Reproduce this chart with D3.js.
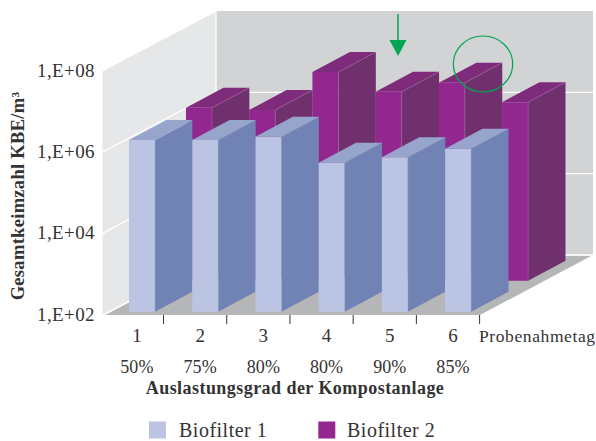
<!DOCTYPE html>
<html><head><meta charset="utf-8">
<script src="https://cdn.jsdelivr.net/npm/d3@7/dist/d3.min.js"></script>
<style>html,body{margin:0;padding:0;background:#fff}svg{display:block}text{font-family:"Liberation Serif",serif;fill:#333}</style>
</head><body><div id="c"></div>
<script>
const days = ["1","2","3","4","5","6"];
const loads = ["50%","75%","80%","80%","90%","85%"];
const biofilter1 = [1.66e6,1.66e6,2.0e6,4.6e5,6.3e5,1.02e6];
const biofilter2 = [1.78e6,1.58e6,1.35e7,4.4e6,7.4e6,2.45e6];
const yTicks = [1e2,1e4,1e6,1e8];
const yTickLabels = ["1,E+02","1,E+04","1,E+06","1,E+08"];
const legendNames = ["Biofilter 1","Biofilter 2"];

const W=596,H=441;
const svg=d3.select("#c").append("svg").attr("width",W).attr("height",H);
const y=d3.scaleLog().domain([1e2,1e8]).range([315,71]);
const x=d3.scaleBand().domain(days).range([100.3,479.6]);
const wallDx=114, wallDy=-60;
const poly=(pts,fill,stroke)=>svg.append("polygon").attr("points",pts.map(p=>p.join(",")).join(" ")).attr("fill",fill).attr("stroke",stroke||"none").attr("stroke-width",stroke?0.5:0);

// walls
const xl=102, top8=y(1e8), base=y(1e2);
poly([[xl,top8],[xl+wallDx,top8+wallDy],[xl+wallDx,base+wallDy],[xl,base]],"#e6e7e8");
poly([[xl+wallDx,top8+wallDy],[593,top8+wallDy],[593,base+wallDy],[xl+wallDx,base+wallDy]],"#d1d3d4");
// floor
poly([[105,315],[219,255.5],[592,255.5],[480,315]],"#b5b6b7");
// grid
yTicks.forEach(t=>{
  const yy=y(t);
  svg.append("polyline").attr("fill","none").attr("stroke","#fff").attr("stroke-width",1.3)
    .attr("points",`${xl},${t===1e2?yy+0.5:yy} ${xl+wallDx},${yy+wallDy} ${t===1e8?xl+wallDx:593},${yy+wallDy}`);
});
svg.append("line").attr("x1",xl+wallDx).attr("x2",xl+wallDx).attr("y1",top8+wallDy).attr("y2",base+wallDy).attr("stroke","#fff").attr("stroke-width",1.3);
svg.append("line").attr("x1",102).attr("x2",102).attr("y1",top8).attr("y2",base).attr("stroke","#fff");

// bars
const barW=26, bdx=37.4, bdy=-20;
function bars(vals,offX,offY,front,side,topc,edge){
  vals.forEach((v,i)=>{
    const x0=x(days[i])+offX, x1=x0+barW;
    const yt=y(v)+offY, yb=y(1e2)+offY;
    poly([[x1,yt],[x1+bdx,yt+bdy],[x1+bdx,yb+bdy],[x1,yb]],side);
    poly([[x0,yt],[x0+bdx,yt+bdy],[x1+bdx,yt+bdy],[x1,yt]],topc);
    poly([[x0,yt],[x1,yt],[x1,yb],[x0,yb]],front);
    svg.append("polyline").attr("fill","none").attr("stroke",edge).attr("stroke-width",0.5)
      .attr("points",`${x1},${yb} ${x1},${yt} ${x1+bdx},${yt+bdy}`);
  });
}
bars(biofilter2,85.7,-34.3,"#92278f","#70306d","#7f2b7b","#a56aa3");
bars(biofilter1,28.7,-3.3,"#bbc5e3","#7083b4","#97a5cc","#9aa8d0");

// x axis ticks
const axis=d3.axisBottom(x).tickSize(9).tickSizeOuter(0).tickFormat("").offset(0);
const ag=svg.append("g").attr("transform","translate(0,315)").call(axis);
ag.select(".domain").remove();
ag.selectAll(".tick").attr("transform",d=>`translate(${x(d)+x.bandwidth()},0)`);
ag.selectAll(".tick line").attr("stroke","#333").attr("stroke-width",1);

const lab=(txt,xx,yy,size,opts={})=>{
  const t=svg.append("text").attr("x",xx).attr("y",yy).attr("font-size",size).attr("dominant-baseline","central").text(txt);
  if(opts.anchor)t.attr("text-anchor",opts.anchor);
  if(opts.bold)t.attr("font-weight","bold");
  if(opts.ls)t.attr("letter-spacing",opts.ls);
  return t;
};
days.forEach((d,i)=>{
  const cx=x(d)+x.bandwidth()/2+5;
  lab(d,cx,335.5,19,{anchor:"middle"});
  lab(loads[i],cx,367,18,{anchor:"middle",ls:0.1});
});
lab("Probenahmetag",479,335.5,17.5,{ls:0.6});
lab("Auslastungsgrad der Kompostanlage",295,388,18,{anchor:"middle",bold:true,ls:0.45});

// y axis labels
yTicks.forEach((t,i)=>lab(yTickLabels[i],95,y(t)-1,19,{anchor:"end",ls:0.4}));
const yt=svg.append("text").attr("transform","translate(18,196) rotate(-90)").attr("text-anchor","middle").attr("dominant-baseline","central").attr("font-size",18.5).attr("font-weight","bold").attr("letter-spacing",0.3);
yt.append("tspan").text("Gesamtkeimzahl KBE/m³");

// annotations
svg.append("ellipse").attr("cx",483).attr("cy",64).attr("rx",29.7).attr("ry",28).attr("fill","none").attr("stroke","#00a651").attr("stroke-width",1.2);
svg.append("line").attr("x1",398).attr("x2",398).attr("y1",14).attr("y2",42).attr("stroke","#00a651").attr("stroke-width",1.5);
svg.append("path").attr("d",d3.line()([[389.5,40],[406.5,40],[398,56]])+"Z").attr("fill","#00a651");

// legend
[["#bbc5e3",149,179],["#92278f",318.3,347]].forEach((d,i)=>{
  svg.append("rect").attr("x",d[1]).attr("y",421.5).attr("width",17).attr("height",17).attr("fill",d[0]);
  lab(legendNames[i],d[2],430,20,{ls:0.5});
});
</script></body></html>
